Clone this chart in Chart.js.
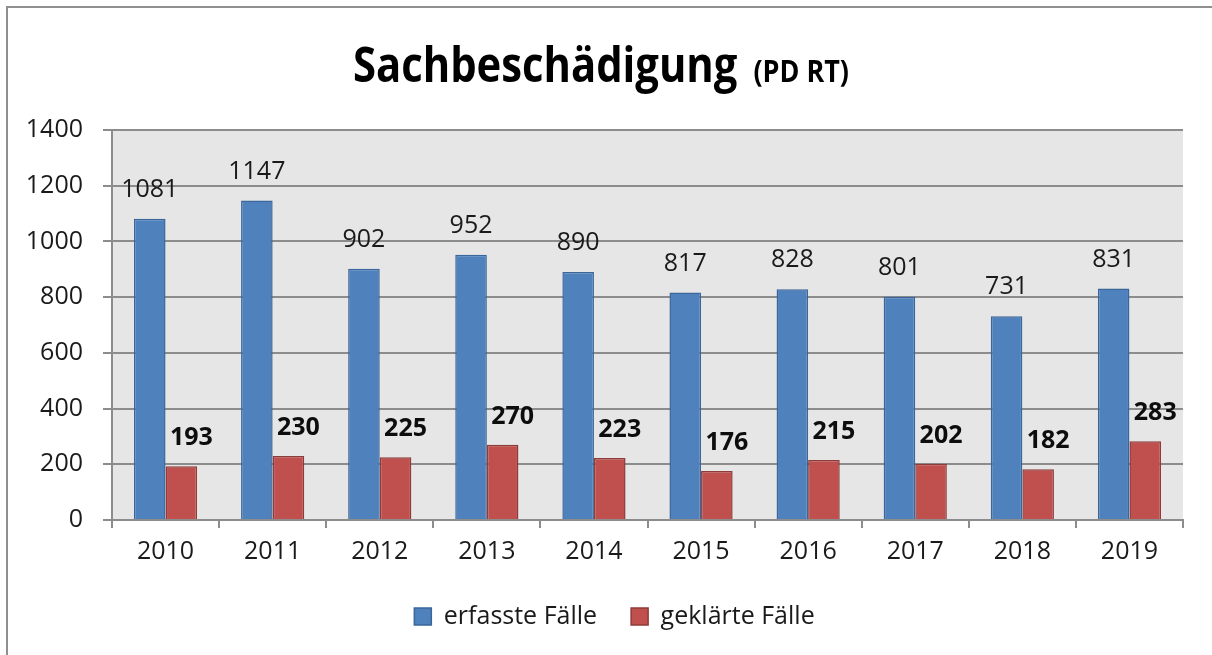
<!DOCTYPE html>
<html>
<head>
<meta charset="utf-8">
<script src="https://cdn.jsdelivr.net/npm/chart.js@4/dist/chart.umd.min.js"></script>
<style>
    html, body { margin: 0; padding: 0; background: #ffffff; overflow: hidden; }
    #wrap { width: 1212px; height: 655px; position: relative; }
    canvas { display: block; }
</style>
</head>
<body>
<div id="wrap"><canvas id="chart" width="1212" height="655"></canvas></div>
<script>
// Chart data
const YEARS = ['2010', '2011', '2012', '2013', '2014', '2015', '2016', '2017', '2018', '2019'];
const ERFASST = [1081, 1147, 902, 952, 890, 817, 828, 801, 731, 831];
const GEKLAERT = [193, 230, 225, 270, 223, 176, 215, 202, 182, 283];
const SERIES_NAMES = ['erfasste Fälle', 'geklärte Fälle'];
const TITLE_MAIN = 'Sachbeschädigung';
const TITLE_SUB = '(PD RT)';
const Y_MIN = 0;
const Y_MAX = 1400;
const Y_STEP = 200;

const FONT = "'Open Sans', sans-serif";

// frame + grey plot background
const backgroundPlugin = {
    id: 'background',
    beforeDraw(chart) {
        const ctx = chart.ctx;
        const area = chart.chartArea;
        ctx.save();
        ctx.fillStyle = '#ffffff';
        ctx.fillRect(0, 0, chart.width, chart.height);
        ctx.fillStyle = '#8f8f8f';
        ctx.fillRect(6, 6, 2, chart.height - 6);
        ctx.fillRect(6, 6, chart.width - 6, 2);
        ctx.fillStyle = '#e6e6e6';
        ctx.fillRect(area.left, area.top, area.right - area.left, area.bottom - area.top);
        ctx.restore();
    }
};

// legend sits a little right of the canvas centre in the original
const legendShift = {
    id: 'legendShift',
    afterLayout(chart) {
        chart.legend.left += 23;
        chart.legend.right += 23;
    }
};

// title with a smaller suffix (squeezed a bit, the original font is narrow)
const titlePlugin = {
    id: 'mixedTitle',
    afterDraw(chart) {
        const ctx = chart.ctx;
        const squeeze = 0.87;
        ctx.save();
        ctx.fillStyle = '#000000';
        ctx.textBaseline = 'alphabetic';
        ctx.textAlign = 'left';
        const mainFont = "bold 48px " + FONT;
        const subFont = "bold 31px " + FONT;
        ctx.font = mainFont;
        const wMain = ctx.measureText(TITLE_MAIN).width * squeeze;
        ctx.font = subFont;
        const wSub = ctx.measureText(TITLE_SUB).width * squeeze;
        const gap = 16;
        const x0 = chart.width / 2 - 5 - (wMain + gap + wSub) / 2;
        ctx.translate(x0, 82);
        ctx.scale(squeeze, 1);
        ctx.font = mainFont;
        ctx.fillText(TITLE_MAIN, 0, 0);
        ctx.font = subFont;
        ctx.fillText(TITLE_SUB, (wMain + gap) / squeeze, 0);
        ctx.restore();
    }
};

// value labels above the bars
const valueLabels = {
    id: 'valueLabels',
    afterDatasetsDraw(chart) {
        const ctx = chart.ctx;
        ctx.save();
        ctx.textAlign = 'center';
        ctx.textBaseline = 'middle';
        chart.data.datasets.forEach((ds, i) => {
            const meta = chart.getDatasetMeta(i);
            ctx.font = (i === 1 ? 'bold ' : '') + '25px ' + FONT;
            ctx.fillStyle = i === 1 ? '#0d0d0d' : '#1a1a1a';
            const shift = i === 1 ? 10 : 0;
            const offset = i === 1 ? 28 : 29;
            meta.data.forEach((bar, j) => {
                ctx.fillText(String(ds.data[j]), bar.x + shift, bar.y - offset);
            });
        });
        ctx.restore();
    }
};

const ctx = document.getElementById('chart').getContext('2d');

new Chart(ctx, {
    type: 'bar',
    data: {
        labels: YEARS,
        datasets: [
            {
                label: SERIES_NAMES[0],
                data: ERFASST,
                backgroundColor: '#4f81bd',
                borderColor: '#3a669a',
                borderWidth: 1.5,
                categoryPercentage: 0.59,
                barPercentage: 1.0
            },
            {
                label: SERIES_NAMES[1],
                data: GEKLAERT,
                backgroundColor: '#c0504d',
                borderColor: '#8e3b39',
                borderWidth: 1.5,
                categoryPercentage: 0.59,
                barPercentage: 1.0
            }
        ]
    },
    options: {
        responsive: false,
        animation: false,
        devicePixelRatio: 1,
        layout: {
            padding: { top: 130, right: 29, bottom: 16, left: 0 }
        },
        plugins: {
            title: { display: false },
            tooltip: { enabled: false },
            legend: {
                display: true,
                position: 'bottom',
                labels: {
                    color: '#1a1a1a',
                    font: { family: FONT, size: 25 },
                    boxWidth: 17,
                    boxHeight: 17,
                    padding: 34
                }
            }
        },
        scales: {
            x: {
                grid: {
                    display: true,
                    drawOnChartArea: false,
                    drawTicks: true,
                    tickLength: 8,
                    offset: true,
                    color: '#8c8c8c',
                    lineWidth: 2
                },
                border: { display: true, color: '#8c8c8c', width: 2 },
                ticks: {
                    color: '#1a1a1a',
                    font: { family: FONT, size: 25 },
                    padding: 9,
                    maxRotation: 0
                },
                afterFit(scale) { scale.height = 50; }
            },
            y: {
                min: Y_MIN,
                max: Y_MAX,
                grid: {
                    color: '#8c8c8c',
                    lineWidth: 2,
                    tickLength: 9
                },
                border: { display: true, color: '#8c8c8c', width: 2 },
                ticks: {
                    stepSize: Y_STEP,
                    color: '#1a1a1a',
                    font: { family: FONT, size: 25 },
                    padding: 20,
                    callback: value => String(value)
                },
                afterFit(scale) { scale.width = 112; }
            }
        }
    },
    plugins: [backgroundPlugin, legendShift, valueLabels, titlePlugin]
});
</script>
</body>
</html>
